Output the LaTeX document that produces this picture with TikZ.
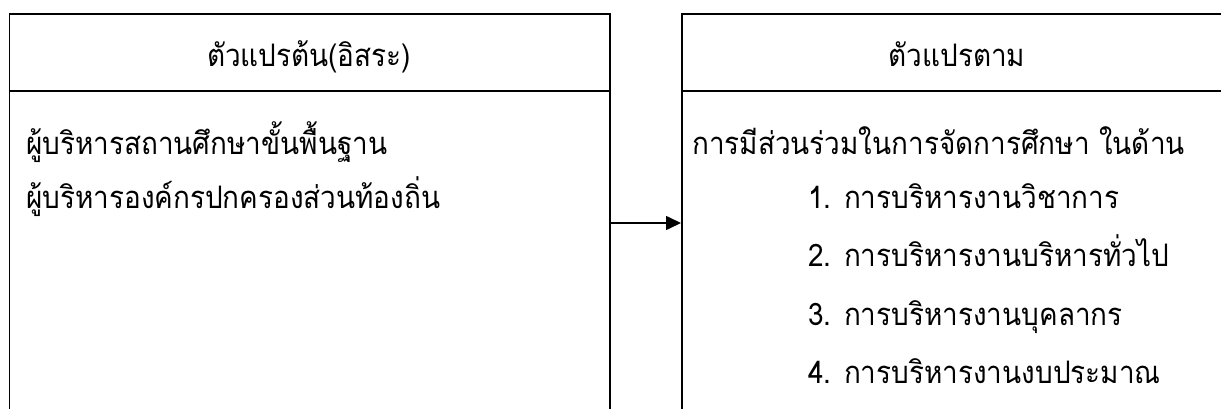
\documentclass[tikz,border=0pt]{standalone}
\usepackage{fontspec}
\newfontfamily\thaifont[Script=Thai,FakeStretch=0.9]{Loma}
\usetikzlibrary{arrows.meta}
\begin{document}
\begin{tikzpicture}[x=1pt,y=-1pt,
  box/.style={draw, line width=1.6pt, rectangle, anchor=north west, inner sep=0pt},
  txt/.style={font=\thaifont\fontsize{31}{36}\selectfont, inner sep=0pt},
  link/.style={line width=1.6pt, -{Triangle[length=15pt,width=14pt]}}]
\useasboundingbox (0,0) rectangle (1221,409);
\clip (0,0) rectangle (1221,409);
\node[box, minimum width=600.5pt, minimum height=420pt] (L) at (8.5,13.5) {};
\node[box, minimum width=552pt, minimum height=420pt] (R) at (681,13.5) {};
\draw[line width=1.6pt] (L.west |- 0,91) -- (L.east |- 0,91);
\draw[line width=1.6pt] (R.west |- 0,91) -- (R.east |- 0,91);
\node[txt, anchor=base] (lh) at (309,67) {ตัวแปรต้น(อิสระ)};
\node[txt, anchor=base] (rh) at (957,67) {ตัวแปรตาม};
\node[txt, anchor=base west] (l1) at (26,155) {ผู้บริหารสถานศึกษาขั้นพื้นฐาน};
\node[txt, anchor=base west] (l2) at (26,208) {ผู้บริหารองค์กรปกครองส่วนท้องถิ่น};
\node[txt, anchor=base west] (r0) at (692,155) {การมีส่วนร่วมในการจัดการศึกษา ในด้าน};
\node[txt, anchor=base west] (r1) at (808,208) {1. การบริหารงานวิชาการ};
\node[txt, anchor=base west] (r2) at (808,266) {2. การบริหารงานบริหารทั่วไป};
\node[txt, anchor=base west] (r3) at (808,325) {3. การบริหารงานบุคลากร};
\node[txt, anchor=base west] (r4) at (808,383) {4. การบริหารงานงบประมาณ};
\draw[link] (L.east |- 0,223) -- (R.west |- 0,223);
\end{tikzpicture}
\end{document}
